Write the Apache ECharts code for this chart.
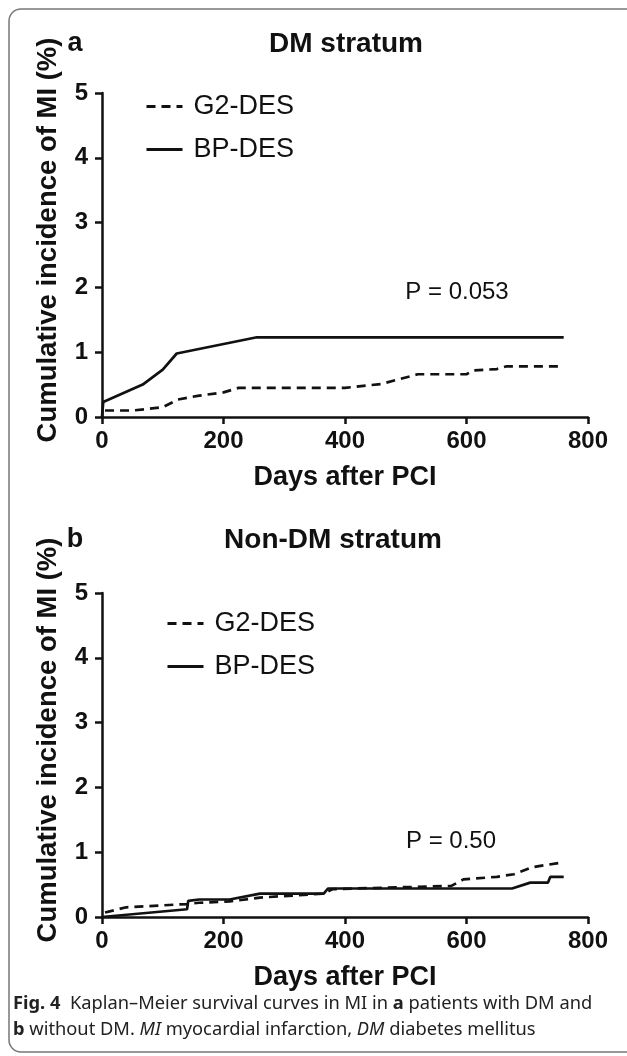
<!DOCTYPE html>
<html>
<head>
<meta charset="utf-8">
<script src="https://cdn.jsdelivr.net/npm/echarts@6/dist/echarts.min.js"></script>
<style>
html,body{margin:0;padding:0;background:#fff;}
#main{width:627px;height:1056px;}
</style>
</head>
<body>
<div id="main"></div>
<script>
// ---- data ----
const xTicks = [0, 200, 400, 600, 800];
const yTicks = [0, 1, 2, 3, 4, 5];
const seriesNames = ['G2-DES', 'BP-DES'];
const panelTitles = ['DM stratum', 'Non-DM stratum'];
const panelLetters = ['a', 'b'];
const pValues = ['P = 0.053', 'P = 0.50'];

// Panel a (DM stratum): [days, cumulative incidence %]
const dmG2Days = [5, 50, 100, 125, 160, 200, 225, 400, 460, 520, 600, 612, 650, 665, 755];
const dmG2Vals = [0.10, 0.10, 0.15, 0.27, 0.33, 0.38, 0.45, 0.45, 0.51, 0.66, 0.66, 0.72, 0.74, 0.78, 0.78];
const dmBPDays = [0, 2, 67, 100, 123, 255, 760];
const dmBPVals = [0, 0.23, 0.50, 0.73, 0.98, 1.23, 1.23];

// Panel b (Non-DM stratum)
const ndG2Days = [5, 40, 140, 160, 210, 260, 365, 380, 575, 595, 650, 678, 709, 757];
const ndG2Vals = [0.07, 0.15, 0.20, 0.22, 0.24, 0.30, 0.36, 0.43, 0.48, 0.58, 0.62, 0.66, 0.77, 0.84];
const ndBPDays = [0, 140, 142, 160, 210, 260, 365, 372, 675, 705, 734, 738, 760];
const ndBPVals = [0, 0.12, 0.25, 0.27, 0.27, 0.36, 0.36, 0.44, 0.44, 0.53, 0.53, 0.62, 0.62];

const xName = 'Days after PCI';
const yName = 'Cumulative incidence of MI (%)';
const captionLine1 = '{b|Fig. 4}  Kaplan\u2013Meier survival curves in MI in {b|a} patients with DM and';
const captionLine2 = '{b|b} without DM. {i|MI} myocardial infarction, {i|DM} diabetes mellitus';

// ---- build ----
const pair = (xs, ys) => xs.map((x, i) => [x, ys[i]]);
const FONT = '"Liberation Sans", Arial, Helvetica, sans-serif';
const CAPFONT = '"Noto Sans", sans-serif';
const INK = '#111';
const CAPSIZE = 18.3;

function mkX(idx) {
  return {
    gridIndex: idx, type: 'value', min: xTicks[0], max: xTicks[xTicks.length - 1], interval: 200,
    axisLine: { show: true, lineStyle: { color: INK, width: 2.5 } },
    axisTick: { show: true, inside: false, length: 7, lineStyle: { color: INK, width: 2.5 } },
    splitLine: { show: false },
    axisLabel: { color: INK, fontFamily: FONT, fontWeight: 'bold', fontSize: 24, margin: 12 },
    name: xName, nameLocation: 'middle', nameGap: 47,
    nameTextStyle: { color: INK, fontFamily: FONT, fontWeight: 'bold', fontSize: 27 }
  };
}
function mkY(idx) {
  return {
    gridIndex: idx, type: 'value', min: yTicks[0], max: yTicks[yTicks.length - 1], interval: 1,
    axisLine: { show: true, lineStyle: { color: INK, width: 2.5 } },
    axisTick: { show: true, inside: false, length: 7, lineStyle: { color: INK, width: 2.5 } },
    splitLine: { show: false },
    axisLabel: { color: INK, fontFamily: FONT, fontWeight: 'bold', fontSize: 24, margin: 14 },
    name: yName, nameLocation: 'middle', nameGap: 40, nameRotate: 90,
    nameTextStyle: { color: INK, fontFamily: FONT, fontWeight: 'bold', fontSize: 27.5, padding: [0, 0, 0, 30] }
  };
}
function mkLine(name, data, idx, dashed) {
  return {
    name: name, type: 'line', xAxisIndex: idx, yAxisIndex: idx, data: data,
    symbol: 'none', showSymbol: false, animation: false,
    lineStyle: { color: INK, width: 2.7, type: dashed ? [9, 6] : 'solid' },
    itemStyle: { color: INK }
  };
}
function mkLegend(left, top) {
  return {
    data: seriesNames, orient: 'vertical', left: left, top: top,
    itemWidth: 36, itemHeight: 26, itemGap: 16, selectedMode: false,
    itemStyle: { opacity: 0 },
    lineStyle: { width: 3 },
    textStyle: { color: INK, fontFamily: FONT, fontSize: 27, padding: [0, 0, 0, 6] }
  };
}
function txt(x, y, text, size, bold, align) {
  return {
    type: 'text', x: x, y: y,
    style: { text: text, fill: INK, font: (bold ? 'bold ' : '') + size + 'px ' + FONT,
             textAlign: align || 'center', textVerticalAlign: 'middle' }
  };
}
function caption(y, text) {
  return {
    type: 'text', x: 13, y: y,
    style: {
      text: text, fill: '#222', font: CAPSIZE + 'px ' + CAPFONT, textVerticalAlign: 'middle',
      rich: {
        b: { fontWeight: 'bold', fontSize: CAPSIZE, fontFamily: 'Noto Sans', fill: '#222' },
        i: { fontStyle: 'italic', fontSize: CAPSIZE, fontFamily: 'Noto Sans', fill: '#222' }
      }
    }
  };
}

const chart = echarts.init(document.getElementById('main'), null, { renderer: 'canvas' });
chart.setOption({
  backgroundColor: '#fff',
  animation: false,
  grid: [
    { left: 102, width: 486, top: 93, height: 324 },
    { left: 102, width: 486, top: 593, height: 324 }
  ],
  xAxis: [mkX(0), mkX(1)],
  yAxis: [mkY(0), mkY(1)],
  legend: [mkLegend(140, 88), mkLegend(161, 605)],
  series: [
    mkLine(seriesNames[0], pair(dmG2Days, dmG2Vals), 0, true),
    mkLine(seriesNames[1], pair(dmBPDays, dmBPVals), 0, false),
    mkLine(seriesNames[0], pair(ndG2Days, ndG2Vals), 1, true),
    mkLine(seriesNames[1], pair(ndBPDays, ndBPVals), 1, false)
  ],
  graphic: [
    { type: 'rect', shape: { x: 9, y: 9, width: 640, height: 1043, r: 12 },
      style: { fill: 'none', stroke: '#777', lineWidth: 1.5 } },
    txt(75, 44, panelLetters[0], 27, true),
    txt(346, 44, panelTitles[0], 28, true),
    txt(75, 540, panelLetters[1], 27, true),
    txt(333, 540, panelTitles[1], 28, true),
    txt(457, 292, pValues[0], 24, false),
    txt(451, 841, pValues[1], 24, false),
    caption(1004, captionLine1),
    caption(1030, captionLine2)
  ]
});
</script>
</body>
</html>
